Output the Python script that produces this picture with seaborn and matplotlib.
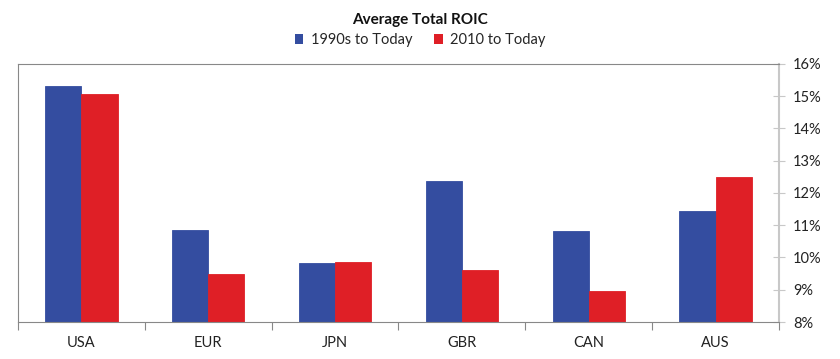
import numpy as np
import pandas as pd
import matplotlib
matplotlib.use("Agg")
import matplotlib.pyplot as plt
import seaborn as sns
from matplotlib.ticker import FuncFormatter
from matplotlib.patches import Patch

# Data (Average Total ROIC, %)
regions = ["USA", "EUR", "JPN", "GBR", "CAN", "AUS"]
roic_1990s = [15.33, 10.86, 9.82, 12.37, 10.83, 11.45]
roic_2010 = [15.08, 9.50, 9.87, 9.62, 8.95, 12.48]
series_names = ["1990s to Today", "2010 to Today"]
palette = ["#344DA0", "#DF1F26"]

df = pd.DataFrame({
    "Region": regions * 2,
    "Period": [series_names[0]] * len(regions) + [series_names[1]] * len(regions),
    "ROIC": roic_1990s + roic_2010,
})

sns.set_style("white")
plt.rcParams["font.family"] = ["Lato", "DejaVu Sans"]

fig = plt.figure(figsize=(8.4, 3.59), dpi=100)
ax = fig.add_axes([0.0214, 0.103, 0.906, 0.719])

base = 8.0
df["Height"] = df["ROIC"] - base
sns.barplot(data=df, x="Region", y="Height", hue="Period", palette=palette,
            width=0.57, saturation=1, ax=ax, legend=False, bottom=base,
            linewidth=0.6, edgecolor="#8090c0")
for bar, col in zip(ax.patches, [palette[0]] * 6 + [palette[1]] * 6):
    bar.set_edgecolor(col)

ax.set_ylim(8, 16)
ax.set_xlim(-0.5, 5.5)
ax.yaxis.tick_right()
ax.set_yticks(np.arange(8, 17, 1))
ax.yaxis.set_major_formatter(FuncFormatter(lambda v, p: f"{v:.0f}%"))
ax.set_xlabel("")
ax.set_ylabel("")

# x ticks at category boundaries, labels centred
ax.set_xticks(np.arange(-0.5, 6.0, 1.0))
ax.set_xticklabels([])
ax.set_xticks(np.arange(6), minor=True)
ax.set_xticklabels(regions, minor=True)
ax.tick_params(axis="x", which="major", direction="out", length=6,
               color="#888888", width=0.8, bottom=True)
ax.tick_params(axis="x", which="minor", length=0, pad=10, labelsize=10.5,
               labelcolor="#222222")
ax.tick_params(axis="y", direction="inout", length=8, color="#c8c8c8",
               width=0.8, right=True, pad=6, labelsize=10.5, labelcolor="#222222")

for side in ["left", "top", "bottom"]:
    ax.spines[side].set_color("#888888")
    ax.spines[side].set_linewidth(0.8)
ax.spines["right"].set_color("#c8c8c8")
ax.spines["right"].set_linewidth(1.5)

fig.text(0.5, 0.945, "Average Total ROIC", ha="center", va="center",
         fontsize=11, fontweight="bold", color="#111111")
handles = [Patch(facecolor=c, edgecolor="none") for c in palette]
fig.legend(handles, series_names, loc="center", bbox_to_anchor=(0.5, 0.888),
           ncol=2, frameon=False, fontsize=10.5, handlelength=0.6,
           handleheight=0.6, handletextpad=0.5, columnspacing=1.5)

fig.savefig("out.png", dpi=100)
plt.close(fig)
